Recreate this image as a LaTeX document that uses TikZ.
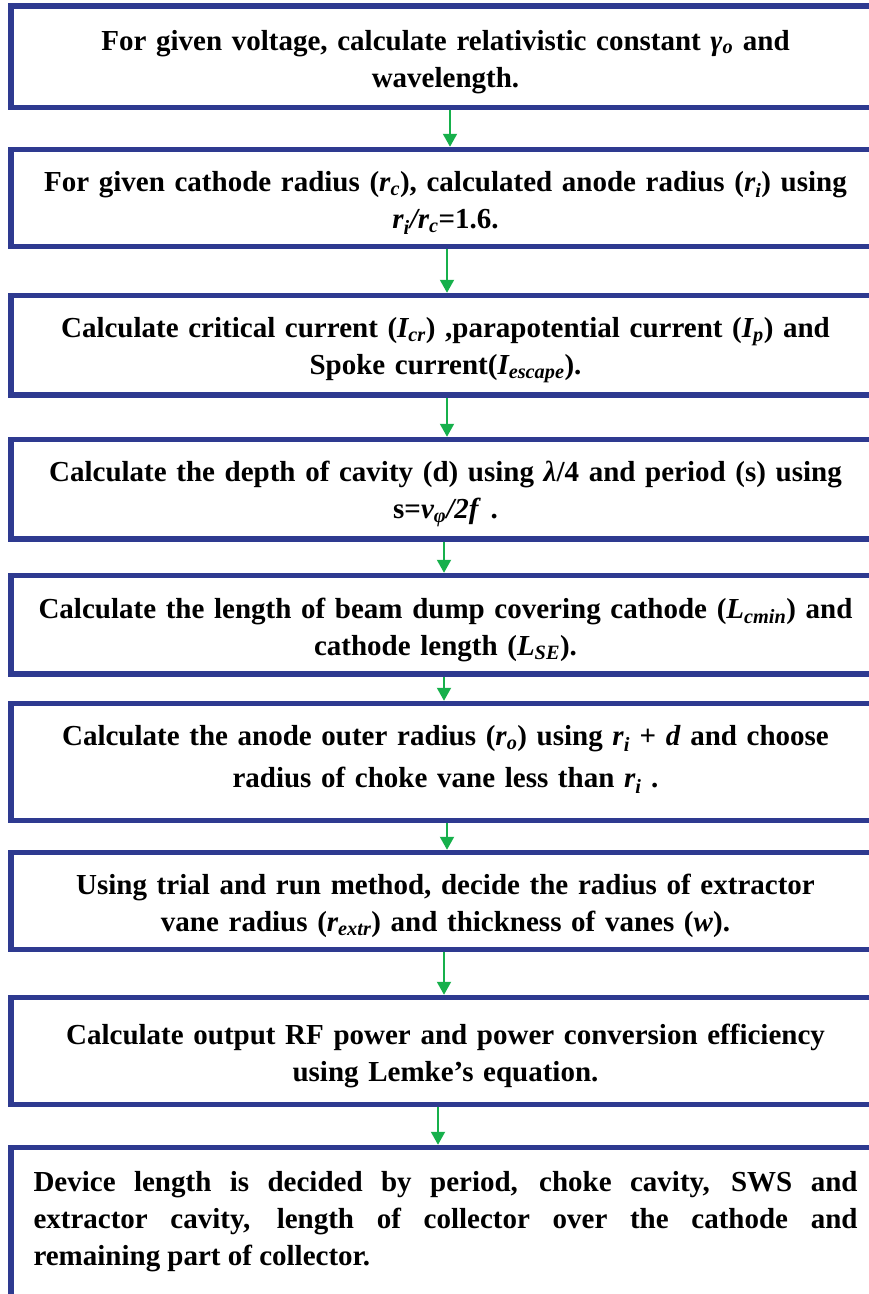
\documentclass[tikz,border=0pt]{standalone}
\usepackage{fontspec}
\setmainfont{Liberation Serif}
\usepackage{xcolor}
\usepackage{tikz}
\usetikzlibrary{arrows.meta,shapes}

\definecolor{boxblue}{RGB}{46,58,144}
\definecolor{flowgreen}{RGB}{22,176,75}

\begin{document}
\begin{tikzpicture}[x=1pt,y=1pt,
        stepbox/.style={draw=boxblue, line width=5.5pt, minimum width=869pt,
            text width=840pt, align=center, inner sep=0pt, text height=30pt,
            font=\fontsize{29pt}{37pt}\selectfont\bfseries},
        flow/.style={draw=flowgreen, line width=2pt,
            -{Triangle[width=14pt,length=13pt]}}]
        \useasboundingbox (0,0) rectangle (869,-1294);
        %\draw[red] (0,0) rectangle (869,-1294);
        \node[stepbox, minimum height=101.5pt] (b1) at (445.5,-56.75)
            {For given voltage, calculate relativistic constant \textit{γ\textsubscript{o}} and\\ wavelength.};
        \node[stepbox, minimum height=97pt] (b2) at (445.5,-198)
            {For given cathode radius (\textit{r\textsubscript{c}}), calculated anode radius (\textit{r\textsubscript{i}}) using\\ \textit{r\textsubscript{i}/r\textsubscript{c}}=1.6.};
        \node[stepbox, minimum height=99.5pt] (b3) at (445.5,-345.25)
            {Calculate critical current (\textit{I\textsubscript{cr}}) ,parapotential current (\textit{I\textsubscript{p}}) and\\ Spoke current(\textit{I\textsubscript{escape}}).};
        \node[stepbox, minimum height=99.5pt] (b4) at (445.5,-489.25)
            {Calculate the depth of cavity (d) using \textit{λ}/4 and period (s) using\\ s=\textit{v\textsubscript{φ}/2f} .};
        \node[stepbox, minimum height=98.5pt] (b5) at (445.5,-624.75)
            {Calculate the length of beam dump covering cathode (\textit{L\textsubscript{cmin}}) and\\ cathode length (\textit{L\textsubscript{SE}}).};
        \node[stepbox, minimum height=117pt, text height=15pt] (b6) at (445.5,-762)
            {Calculate the anode outer radius (\textit{r\textsubscript{o}}) using \textit{r\textsubscript{i}} + \textit{d} and choose\\[5pt] radius of choke vane less than \textit{r\textsubscript{i}} .};
        \node[stepbox, minimum height=97pt] (b7) at (445.5,-901)
            {Using trial and run method, decide the radius of extractor\\ vane radius (\textit{r\textsubscript{extr}}) and thickness of vanes (\textit{w}).};
        \node[stepbox, minimum height=107pt] (b8) at (445.5,-1051)
            {Calculate output RF power and power conversion efficiency\\ using Lemke’s equation.};
        \node[stepbox, text width=824pt, align=justify, anchor=base,
            text height=43.5pt, text depth=200pt] (b9) at (445.5,-1191)
            {Device length is decided by period, choke cavity, SWS and\linebreak{} extractor cavity, length of collector over the cathode and\linebreak{} remaining part of collector.};

        \draw[flow] ([xshift=4.5pt]b1.south) -- ([xshift=4.5pt]b2.north);
        \draw[flow] ([xshift=1.5pt]b2.south) -- ([xshift=1.5pt]b3.north);
        \draw[flow] ([xshift=1.5pt]b3.south) -- ([xshift=1.5pt]b4.north);
        \draw[flow] ([xshift=-1.5pt]b4.south) -- ([xshift=-1.5pt]b5.north);
        \draw[flow] ([xshift=-1.5pt]b5.south) -- ([xshift=-1.5pt]b6.north);
        \draw[flow] ([xshift=1.5pt]b6.south) -- ([xshift=1.5pt]b7.north);
        \draw[flow] ([xshift=-1.5pt]b7.south) -- ([xshift=-1.5pt]b8.north);
        \draw[flow] ([xshift=-7.5pt]b8.south) -- ([xshift=-7.5pt]b9.north);
    \end{tikzpicture}
\end{document}
